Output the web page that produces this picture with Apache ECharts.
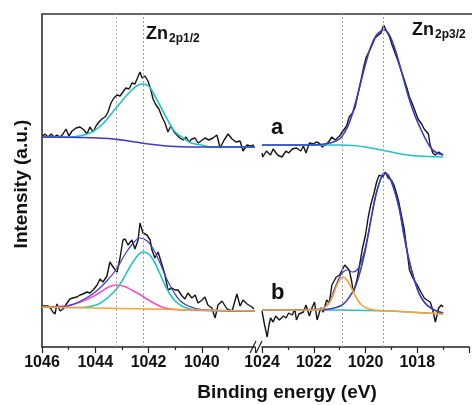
<!DOCTYPE html>
<html>
<head>
<meta charset="utf-8">
<script src="https://cdn.jsdelivr.net/npm/echarts@6/dist/echarts.min.js"></script>
<style>
  html, body { margin: 0; padding: 0; background: #fff; }
  #chart { width: 472px; height: 405px; }
</style>
</head>
<body>
<div id="chart"></div>
<script>
// binding energy (eV), intensity (a.u.) pairs

// ---- spectrum a, Zn 2p1/2 side ----
var aLeftRaw = [[1046.00,210],[1045.89,213],[1045.77,210],[1045.66,213],[1045.55,210],[1045.44,212],[1045.32,210],[1045.21,213],[1045.10,218],[1044.99,211],[1044.87,216],[1044.72,219],[1044.57,220],[1044.42,217],[1044.31,213],[1044.20,220],[1044.08,215],[1043.97,221],[1043.86,225],[1043.75,228],[1043.63,230],[1043.52,235],[1043.41,244],[1043.30,249],[1043.18,252],[1043.07,251],[1042.96,255],[1042.85,259],[1042.73,258],[1042.62,264],[1042.51,263],[1042.43,268],[1042.32,275],[1042.24,269],[1042.13,271],[1042.02,266],[1041.91,257],[1041.83,248],[1041.72,242],[1041.61,238],[1041.49,230],[1041.38,224],[1041.27,215],[1041.16,221],[1041.04,215],[1040.93,212],[1040.82,209],[1040.70,207],[1040.59,210],[1040.48,205],[1040.37,208],[1040.25,209],[1040.14,204],[1040.03,206],[1039.88,209],[1039.73,207],[1039.58,209],[1039.43,212],[1039.31,199],[1039.16,207],[1039.01,213],[1038.86,208],[1038.71,205],[1038.56,206],[1038.45,196],[1038.30,202],[1038.15,201],[1038.04,202]];
var aLeftBg = [[1046,210],[1044.5,209.5],[1043.5,208.5],[1043,207],[1042.5,205],[1042,203],[1041.5,201.5],[1041,200.5],[1040,200],[1038,200]];
var aLeftPeak = [[1046,210],[1045.0,210],[1044.6,211],[1044.2,214],[1043.8,221],[1043.4,233],[1043.0,246],[1042.7,255],[1042.45,261],[1042.24,263],[1042.0,261],[1041.8,253],[1041.6,243],[1041.4,233],[1041.2,223],[1041.0,215],[1040.7,209],[1040.4,204],[1040.0,202],[1039.6,200],[1038,200]];

// ---- spectrum a, Zn 2p3/2 side ----
var aRightRaw = [[1024.00,194],[1023.97,190],[1023.83,196],[1023.67,192],[1023.57,198],[1023.40,192],[1023.23,190],[1023.07,196],[1022.97,194],[1022.83,198],[1022.67,199],[1022.50,196],[1022.40,201],[1022.30,194],[1022.17,204],[1022.00,203],[1021.90,205],[1021.80,204],[1021.67,200],[1021.50,203],[1021.40,206],[1021.30,210],[1021.17,207],[1021.00,211],[1020.90,215],[1020.73,221],[1020.63,230],[1020.50,234],[1020.40,240],[1020.30,252],[1020.17,267],[1020.07,280],[1019.97,290],[1019.83,297],[1019.73,303],[1019.63,309],[1019.50,312],[1019.40,314],[1019.30,322],[1019.17,315],[1019.07,310],[1018.97,302],[1018.83,292],[1018.73,285],[1018.63,277],[1018.50,267],[1018.40,259],[1018.30,250],[1018.17,242],[1018.07,235],[1017.97,228],[1017.83,223],[1017.73,218],[1017.57,213],[1017.50,202],[1017.40,194],[1017.30,192],[1017.17,195],[1017.00,192]];
var aRightFit = [[1024,202],[1022.0,202],[1021.6,203],[1021.3,204.5],[1021.0,208],[1020.8,215],[1020.6,226],[1020.4,243],[1020.2,263],[1020.0,283],[1019.8,300],[1019.6,311],[1019.4,316],[1019.27,317],[1019.1,313],[1018.9,301],[1018.7,284],[1018.5,265],[1018.3,247],[1018.1,232],[1017.9,220],[1017.7,209],[1017.5,200],[1017.3,195],[1017.0,192]];
var aRightBg = [[1024,202],[1021.0,202],[1020.5,201.5],[1020.0,200],[1019.5,197.5],[1019.0,195],[1018.5,192.5],[1018.0,191],[1017.0,190]];

// ---- spectrum b, Zn 2p1/2 side ----
var bLeftRaw = [[1046.00,41],[1045.96,40],[1045.77,41],[1045.66,38],[1045.59,35],[1045.51,33],[1045.44,43],[1045.32,36],[1045.21,38],[1045.06,44],[1044.95,48],[1044.84,49],[1044.69,50],[1044.57,52],[1044.46,53],[1044.31,55],[1044.20,54],[1044.08,57],[1043.93,62],[1043.82,68],[1043.71,65],[1043.56,71],[1043.45,85],[1043.33,80],[1043.18,75],[1043.07,89],[1042.96,107],[1042.88,108],[1042.77,102],[1042.62,107],[1042.51,98],[1042.39,107],[1042.32,124],[1042.21,114],[1042.06,112],[1041.94,107],[1041.87,97],[1041.76,89],[1041.64,95],[1041.49,82],[1041.38,72],[1041.27,57],[1041.12,59],[1041.00,57],[1040.89,57],[1040.74,51],[1040.63,48],[1040.52,54],[1040.37,49],[1040.25,52],[1040.14,44],[1039.99,47],[1039.88,50],[1039.77,42],[1039.62,39],[1039.50,29],[1039.39,42],[1039.24,46],[1039.05,38],[1038.86,36],[1038.68,53],[1038.56,41],[1038.45,47],[1038.30,43],[1038.11,40],[1038.04,38]];
var bLeftBase = [[1046,40],[1038,36]];
var bLeftPeak1 = [[1046,40],[1045.4,40.5],[1045.0,41.5],[1044.6,44.5],[1044.2,49],[1043.8,55],[1043.5,60],[1043.2,62],[1042.9,60.5],[1042.6,56.5],[1042.3,52],[1042.0,47],[1041.7,42.5],[1041.4,39],[1041.0,37.5],[1040.5,37],[1040,36.5],[1038,36]];
var bLeftPeak2 = [[1046,40],[1044.5,39.5],[1044.1,41],[1043.8,44],[1043.5,50],[1043.2,58],[1042.95,68],[1042.7,80],[1042.45,90],[1042.22,95],[1042.0,93],[1041.8,86],[1041.6,75],[1041.4,63],[1041.2,53],[1041.0,46],[1040.75,41],[1040.5,38.5],[1040.2,37],[1038,36]];
var bLeftFit = [[1046,40],[1045.2,40.5],[1044.8,43],[1044.4,48],[1044.0,55],[1043.6,65],[1043.2,78],[1042.9,92],[1042.6,103],[1042.32,109],[1042.05,106],[1041.8,97],[1041.55,83],[1041.3,67],[1041.05,55],[1040.8,46],[1040.5,41],[1040,37.5],[1038,36]];

// ---- spectrum b, Zn 2p3/2 side ----
var bRightRaw = [[1024.00,36],[1023.97,34],[1023.90,22],[1023.80,10],[1023.73,22],[1023.67,29],[1023.57,25],[1023.47,31],[1023.33,27],[1023.17,31],[1023.07,29],[1022.97,34],[1022.83,32],[1022.73,38],[1022.67,27],[1022.57,33],[1022.40,35],[1022.30,42],[1022.17,31],[1022.07,39],[1021.97,45],[1021.87,27],[1021.73,39],[1021.63,35],[1021.50,47],[1021.40,44],[1021.30,62],[1021.13,70],[1021.00,72],[1020.90,77],[1020.80,82],[1020.73,80],[1020.63,77],[1020.53,65],[1020.47,54],[1020.33,67],[1020.23,82],[1020.13,97],[1020.00,112],[1019.90,129],[1019.80,142],[1019.67,154],[1019.57,165],[1019.47,172],[1019.33,170],[1019.23,175],[1019.13,169],[1019.00,167],[1018.90,162],[1018.73,147],[1018.63,134],[1018.50,117],[1018.40,97],[1018.30,77],[1018.17,69],[1018.00,62],[1017.90,57],[1017.73,49],[1017.63,47],[1017.50,45],[1017.40,37],[1017.30,25],[1017.17,39],[1017.07,42],[1017.00,40]];
var bRightBase = [[1024,37],[1021,37],[1019,36],[1017,33]];
var bRightPeak1 = [[1024,37],[1022,37],[1021.75,37.5],[1021.6,39],[1021.4,44],[1021.25,52],[1021.1,62],[1020.97,68],[1020.87,70],[1020.75,68],[1020.6,62],[1020.45,54],[1020.3,47],[1020.15,42],[1019.97,39],[1019.65,37],[1019,36],[1018,34.5],[1017,33]];
var bRightPeak2 = [[1021.8,37],[1021.3,38.5],[1020.9,42],[1020.65,49],[1020.4,60],[1020.2,76],[1020.0,98],[1019.8,126],[1019.6,152],[1019.4,169],[1019.27,174],[1019.1,171],[1018.9,158],[1018.7,139],[1018.5,110],[1018.3,85],[1018.1,66],[1017.9,52],[1017.7,44],[1017.5,39.5],[1017.3,36.5],[1017.0,34]];
var bRightFit = [[1024,37],[1021.75,38],[1021.6,39.5],[1021.4,45],[1021.2,58],[1021.0,70],[1020.87,75],[1020.7,77],[1020.5,75],[1020.33,77],[1020.17,85],[1020.0,100],[1019.8,126],[1019.6,152],[1019.4,169],[1019.27,174],[1019.1,171],[1018.9,158],[1018.7,139],[1018.5,110],[1018.3,85],[1018.1,66],[1017.9,52],[1017.7,44],[1017.5,39.5],[1017.3,36.5],[1017.0,34]];

var leftRefLines = [1043.2, 1042.2];
var rightRefLines = [1020.9, 1019.3];

var FONT = 'Liberation Sans, Arial, sans-serif';
var BLACK = '#151515';
var CYAN = '#1ec4c8';
var BLUE = '#3b3bc4';
var PINK = '#ff4fc6';
var ORANGE = '#ffa032';

function line(data, color, gi, smooth, width) {
    return {
        type: 'line',
        xAxisIndex: gi,
        yAxisIndex: gi,
        data: data,
        showSymbol: false,
        smooth: smooth ? 0.4 : false,
        lineStyle: { color: color, width: width || 1.6 },
        silent: true
    };
}

function refLines(vals) {
    return {
        silent: true,
        symbol: 'none',
        label: { show: false },
        lineStyle: { color: '#a0a0a0', type: [2, 2], width: 1 },
        data: vals.map(function (v) { return { xAxis: v }; })
    };
}

function xAxisOpt(gi, min, max, hideVal) {
    return {
        gridIndex: gi,
        type: 'value',
        inverse: true,
        min: min,
        max: max,
        interval: 2,
        axisLine: { lineStyle: { color: '#222', width: 1.5 } },
        axisTick: { length: 6, lineStyle: { color: '#222', width: 1.2 } },
        minorTick: { show: true, splitNumber: 2, length: 3, lineStyle: { color: '#222', width: 1.2 } },
        splitLine: { show: false },
        axisLabel: {
            margin: 8,
            color: '#111',
            fontFamily: FONT,
            fontWeight: 'bold',
            fontSize: 16,
            formatter: function (v) { return v === hideVal ? '' : String(v); }
        }
    };
}

var chart = echarts.init(document.getElementById('chart'));

var rawLeftA = line(aLeftRaw, BLACK, 0, false, 1.4);
rawLeftA.markLine = refLines(leftRefLines);
var rawRightA = line(aRightRaw, BLACK, 1, false, 1.4);
rawRightA.markLine = refLines(rightRefLines);

var option = {
    animation: false,
    backgroundColor: '#fff',
    grid: [
        { left: 42, top: 14, bottom: 58, width: 213 },
        { left: 262, top: 14, bottom: 58, width: 240 }
    ],
    xAxis: [
        xAxisOpt(0, 1038, 1046, 1038),
        xAxisOpt(1, 1016, 1024, 1016)
    ],
    yAxis: [
        {
            gridIndex: 0, type: 'value', min: 0, max: 333,
            axisLine: { show: true, lineStyle: { color: '#222', width: 1.5 } },
            axisTick: { show: false }, axisLabel: { show: false }, splitLine: { show: false }
        },
        {
            gridIndex: 1, type: 'value', min: 0, max: 333, show: false
        }
    ],
    series: [
        rawLeftA,
        line(aLeftPeak, CYAN, 0, true),
        line(aLeftBg, BLUE, 0, true),
        line(bLeftRaw, BLACK, 0, false, 1.4),
        line(bLeftPeak1, PINK, 0, true),
        line(bLeftPeak2, CYAN, 0, true),
        line(bLeftFit, BLUE, 0, true, 1.2),
        line(bLeftBase, ORANGE, 0, false),
        rawRightA,
        line(aRightBg, CYAN, 1, true),
        line(aRightFit, BLUE, 1, true),
        line(bRightRaw, BLACK, 1, false, 1.4),
        line(bRightBase, CYAN, 1, false),
        line(bRightPeak2, BLUE, 1, true),
        line(bRightFit, BLUE, 1, true, 1.2),
        line(bRightPeak1, ORANGE, 1, true)
    ],
    graphic: [
        // top frame
        { type: 'line', silent: true, shape: { x1: 42, y1: 14, x2: 472, y2: 14 }, style: { stroke: '#333', lineWidth: 1.5 } },
        // axis break marks
        { type: 'line', silent: true, shape: { x1: 250, y1: 353, x2: 256, y2: 341 }, style: { stroke: '#222', lineWidth: 1.2 } },
        { type: 'line', silent: true, shape: { x1: 256, y1: 353, x2: 262, y2: 341 }, style: { stroke: '#222', lineWidth: 1.2 } },
        // peak labels
        { type: 'text', silent: true, x: 146, y: 34, style: { text: 'Zn', fill: '#111', font: 'bold 18px ' + FONT, verticalAlign: 'middle' } },
        { type: 'text', silent: true, x: 169, y: 39, style: { text: '2p1/2', fill: '#111', font: 'bold 12px ' + FONT, verticalAlign: 'middle' } },
        { type: 'text', silent: true, x: 412, y: 30, style: { text: 'Zn', fill: '#111', font: 'bold 18px ' + FONT, verticalAlign: 'middle' } },
        { type: 'text', silent: true, x: 435, y: 35, style: { text: '2p3/2', fill: '#111', font: 'bold 12px ' + FONT, verticalAlign: 'middle' } },
        { type: 'text', silent: true, x: 271, y: 128, style: { text: 'a', fill: '#111', font: 'bold 22px ' + FONT, verticalAlign: 'middle' } },
        { type: 'text', silent: true, x: 271, y: 293, style: { text: 'b', fill: '#111', font: 'bold 22px ' + FONT, verticalAlign: 'middle' } },
        // axis names
        { type: 'text', silent: true, x: 287, y: 393, style: { text: 'Binding energy (eV)', fill: '#111', font: 'bold 19px ' + FONT, align: 'center', verticalAlign: 'middle' } },
        { type: 'text', silent: true, x: 22, y: 184, rotation: Math.PI / 2, style: { text: 'Intensity (a.u.)', fill: '#111', font: 'bold 19px ' + FONT, align: 'center', verticalAlign: 'middle' } }
    ]
};

chart.setOption(option);
</script>
</body>
</html>
